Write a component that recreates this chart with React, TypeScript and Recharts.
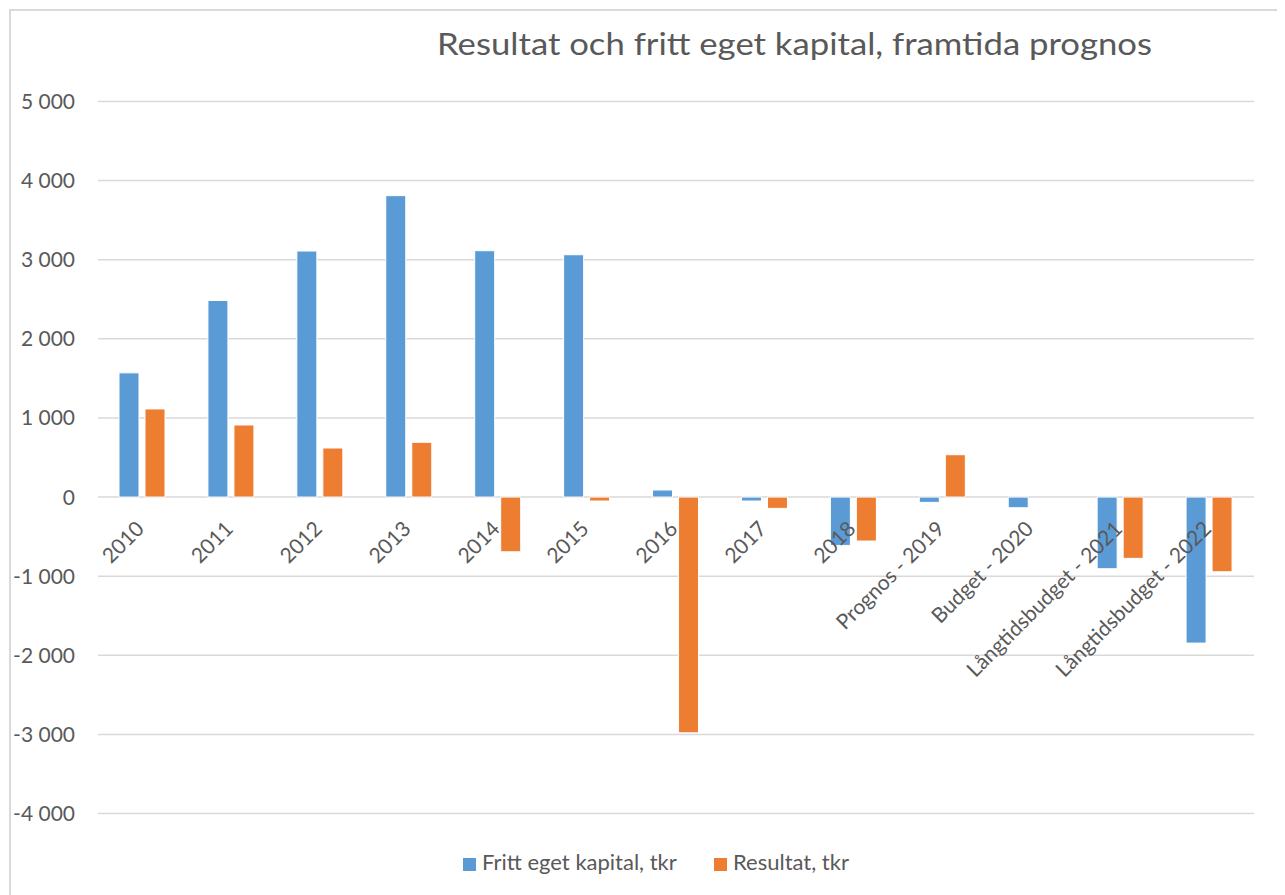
import { BarChart, Bar, XAxis, YAxis, CartesianGrid } from "recharts";

const categories = [
  "2010",
  "2011",
  "2012",
  "2013",
  "2014",
  "2015",
  "2016",
  "2017",
  "2018",
  "Prognos - 2019",
  "Budget - 2020",
  "Långtidsbudget - 2021",
  "Långtidsbudget - 2022",
];
const frittEgetKapital = [1570, 2485, 3110, 3810, 3114, 3063, 89, -50, -611, -67, -135, -906, -1846];
const resultat = [1114, 911, 620, 692, -692, -50, -2980, -143, -556, 535, 0, -775, -944];
const yTicks = [-4000, -3000, -2000, -1000, 0, 1000, 2000, 3000, 4000, 5000];

const TITLE = "Resultat och fritt eget kapital, framtida prognos";
const BLUE = "#5B9BD5";
const ORANGE = "#ED7D31";
const TEXT = "#595959";
const GRID = "#D9D9D9";
const FONT = "Lato, 'Open Sans', sans-serif";

const W = 1277;
const H = 887;
const MARGIN = { top: 93.5, right: 31, bottom: 80.5, left: 10 };
const X_AXIS_H = 1;
const PLOT_H = H - MARGIN.top - MARGIN.bottom - X_AXIS_H;
// y position of the value 0 line, category labels hang from it like in Excel
const ZERO_Y = MARGIN.top + (PLOT_H * 5000) / 9000;

const data = categories.map((name, i) => ({
  name,
  fritt: frittEgetKapital[i],
  resultat: resultat[i],
}));

const fmt = (v: number) => {
  const s = Math.abs(v).toString().replace(/\B(?=(\d{3})+(?!\d))/g, " ");
  return v < 0 ? "-" + s : s;
};

// eslint-disable-next-line @typescript-eslint/no-explicit-any
const CategoryTick = (props: any) => {
  const { x, payload } = props;
  const px = x + 3;
  const py = ZERO_Y + 33;
  return (
    <text
      x={px}
      y={py}
      transform={`rotate(-45, ${px}, ${py})`}
      textAnchor="end"
      fill={TEXT}
      fontSize={21}
      fontFamily={FONT}
    >
      {payload.value}
    </text>
  );
};

export default function App() {
  return (
    <div style={{ position: "relative", width: W, height: H, overflow: "hidden", background: "#fff" }}>
      <div
        style={{
          position: "absolute",
          left: 1,
          top: 1,
          width: 1320,
          height: 920,
          border: `2px solid ${GRID}`,
        }}
      />
      <BarChart
        width={W}
        height={H}
        data={data}
        margin={MARGIN}
        barSize={20}
        barGap={6}
        style={{ position: "absolute", left: 0, top: 0 }}
      >
        <CartesianGrid vertical={false} stroke={GRID} strokeWidth={1.5} />
        <XAxis
          dataKey="name"
          height={X_AXIS_H}
          axisLine={false}
          tickLine={false}
          interval={0}
          tick={CategoryTick}
        />
        <YAxis
          width={80}
          domain={[-4000, 5000]}
          ticks={yTicks}
          interval={0}
          axisLine={false}
          tickLine={false}
          tickMargin={17}
          tickFormatter={fmt}
          tick={{ fill: TEXT, fontSize: 21, fontFamily: FONT }}
        />
        <Bar dataKey="fritt" fill={BLUE} stroke="#fff" strokeWidth={1} isAnimationActive={false} />
        <Bar dataKey="resultat" fill={ORANGE} stroke="#fff" strokeWidth={1} isAnimationActive={false} />
      </BarChart>
      <svg
        width={W}
        height={H}
        style={{ position: "absolute", left: 0, top: 0, pointerEvents: "none" }}
      >
        <text x={429} y={47} fill={TEXT} fontSize={31} fontFamily={FONT} textLength={715} lengthAdjust="spacingAndGlyphs">
          {TITLE}
        </text>
        <rect x={455} y={850} width={13} height={13} fill={BLUE} />
        <text x={474} y={862} fill={TEXT} fontSize={22} fontFamily={FONT}>
          Fritt eget kapital, tkr
        </text>
        <rect x={706} y={850} width={13} height={13} fill={ORANGE} />
        <text x={725} y={862} fill={TEXT} fontSize={22} fontFamily={FONT}>
          Resultat, tkr
        </text>
      </svg>
    </div>
  );
}
